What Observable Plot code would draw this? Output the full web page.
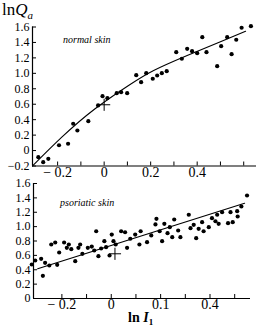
<!DOCTYPE html>
<html><head><meta charset="utf-8">
<script src="https://cdn.jsdelivr.net/npm/d3@7"></script>
<script src="https://cdn.jsdelivr.net/npm/@observablehq/plot@0.6"></script>
<style>
body{margin:0;background:#fff;}
#wrap{position:relative;width:258px;height:330px;font-family:"Liberation Serif",serif;color:#000;overflow:hidden;background:#fff}
#top,#bot{position:absolute;left:0}
#top{top:0}
#bot{top:180px}
.lab{position:absolute;white-space:nowrap;line-height:1}
</style></head><body>
<div id="wrap">
<div id="top"></div>
<div id="bot"></div>
<div class="lab" style="left:2px;top:1px;font-size:17px">ln<i>Q</i><i style="font-size:11px;position:relative;top:4px">a</i></div>
<div class="lab" style="left:63px;top:35px;font-size:10px;font-style:italic">normal skin</div>
<div class="lab" style="left:60px;top:198px;font-size:10px;font-style:italic">psoriatic skin</div>
<div class="lab" style="left:128px;top:311px;font-size:14px;font-weight:bold">ln <i>I</i><span style="font-size:9px;position:relative;top:3px">1</span></div>
</div>
<script>
// ---- normal skin (top panel) ----
const topX = [-0.283,-0.262,-0.240,-0.194,-0.155,-0.133,-0.115,-0.068,-0.026,-0.007,0.014,0.054,0.073,0.099,0.138,0.159,0.181,0.209,0.228,0.248,0.269,0.310,0.334,0.357,0.378,0.400,0.422,0.440,0.486,0.503,0.529,0.548,0.568,0.591,0.631];
const topY = [-0.086,-0.151,-0.107,0.069,0.088,0.347,0.260,0.380,0.584,0.704,0.678,0.743,0.756,0.743,0.976,0.886,1.002,0.930,0.972,1.002,1.028,1.274,1.189,1.318,1.287,1.261,1.468,1.274,1.093,1.352,1.468,1.248,1.435,1.590,1.611];
const topFitX = [-0.308,-0.182,-0.039,0.105,0.213,0.357,0.500,0.608];
const topFitY = [-0.2,0.173,0.541,0.843,1.037,1.231,1.410,1.545];
const topMeanX = [0];
const topMeanY = [0.593];
const topXTicks = [-0.2,-0.1,0,0.1,0.2,0.3,0.4,0.5,0.6];
const topXLabelVals = [-0.2,0,0.2,0.4];
const topXLabels = ["\u2212 0.2","0","0.2","0.4"];
const topYTicks = [-0.2,0,0.2,0.4,0.6,0.8,1.0,1.2,1.4,1.6];
const topYLabels = ["\u22120.2","0","0.2","0.4","0.6","0.8","1.0","1.2","1.4","1.6"];

// ---- psoriatic skin (bottom panel) ----
const botX = [-0.322,-0.308,-0.284,-0.277,-0.268,-0.251,-0.243,-0.227,-0.219,-0.211,-0.191,-0.180,-0.172,-0.162,-0.146,-0.133,-0.126,-0.117,-0.095,-0.079,-0.069,-0.061,-0.052,-0.041,-0.028,-0.021,-0.007,0.002,0.009,0.018,0.040,0.056,0.064,0.077,0.097,0.114,0.119,0.145,0.162,0.179,0.183,0.196,0.206,0.215,0.228,0.237,0.247,0.255,0.271,0.280,0.314,0.321,0.334,0.344,0.354,0.368,0.374,0.395,0.408,0.422,0.429,0.435,0.449,0.473,0.483,0.492,0.510,0.512,0.527,0.550];
const botY = [0.473,0.529,0.552,0.316,0.497,0.459,0.751,0.779,0.469,0.640,0.779,0.705,0.751,0.686,0.519,0.705,0.751,0.622,0.705,0.723,0.668,0.936,0.589,0.696,0.797,0.714,0.598,0.890,0.797,0.751,0.936,0.922,0.705,0.831,0.890,0.751,0.936,0.783,0.877,1.030,1.109,0.936,0.797,1.039,0.909,0.992,0.853,1.099,0.946,0.853,1.165,0.978,1.025,0.839,0.970,1.062,0.936,0.992,1.117,1.075,1.165,1.039,1.201,1.048,1.201,1.062,1.215,1.141,1.280,1.433];
const botFitX = [-0.298,0.540];
const botFitY = [0.413,1.326];
const botMeanX = [0.015];
const botMeanY = [0.622];
const botXTicks = [-0.2,-0.1,0,0.1,0.2,0.3,0.4,0.5];
const botXLabelVals = [-0.2,0,0.2,0.4];
const botXLabels = ["\u2212 0.2","0","0.1","0.4"];
const botYTicks = [0,0.2,0.4,0.6,0.8,1.0,1.2,1.4,1.6];
const botYLabels = ["0","0.2","0.4","0.6","0.8","1.0","1.2","1.4","1.6"];

const pts = (xs, ys) => xs.map((x, i) => ({x, y: ys[i]}));

function panel({W, H, mL, mR, mT, mB, xDom, yDom, xs, ys, fx, fy, mx, my, xTicks, xLV, xL, yTicks, yL, curve, xPad}) {
  const xMap = new Map(xLV.map((v, i) => [v, xL[i]]));
  const yMap = new Map(yTicks.map((v, i) => [v, yL[i]]));
  const pw = W - mL - mR, ph = H - mT - mB;
  return Plot.plot({
    width: W, height: H,
    marginLeft: mL, marginRight: mR, marginTop: mT, marginBottom: mB,
    x: {domain: xDom},
    y: {domain: yDom},
    style: {fontFamily: "'Liberation Serif', serif", fontSize: "14px", color: "#000", background: "transparent", overflow: "visible"},
    marks: [
      Plot.ruleY([yDom[0]], {stroke: "#000", strokeWidth: 1.2}),
      Plot.ruleX([xDom[0]], {stroke: "#000", strokeWidth: 1.2}),
      Plot.tickX(xTicks, {x: d => d, insetTop: ph - 4, stroke: "#000"}),
      Plot.tickY(yTicks, {y: d => d, insetRight: pw - 4, stroke: "#000"}),
      Plot.axisX(xLV, {tickSize: 0, tickPadding: xPad, tickFormat: d => xMap.get(d), label: null, fontSize: 14}),
      Plot.axisY(yTicks, {tickSize: 0, tickPadding: 3, tickFormat: d => yMap.get(d), label: null, fontSize: 12}),
      Plot.line(pts(fx, fy), {x: "x", y: "y", stroke: "#000", strokeWidth: 1.1, curve}),
      Plot.dot(pts(xs, ys), {x: "x", y: "y", r: 2.1, fill: "#000", stroke: "none"}),
      Plot.dot(pts(mx, my), {x: "x", y: "y", symbol: "plus", r: 4, stroke: "#000", strokeWidth: 1})
    ]
  });
}

document.getElementById("top").append(panel({
  W: 258, H: 180, mL: 32, mR: 2, mT: 26.5, mB: 14.5,
  xDom: [-0.308, 0.655], yDom: [-0.2, 1.6],
  xs: topX, ys: topY, fx: topFitX, fy: topFitY, mx: topMeanX, my: topMeanY,
  xTicks: topXTicks, xLV: topXLabelVals, xL: topXLabels,
  yTicks: topYTicks, yL: topYLabels, curve: "natural", xPad: 1
}));

document.getElementById("bot").append(panel({
  W: 258, H: 150, mL: 33, mR: 8, mT: 3, mB: 32,
  xDom: [-0.315, 0.564], yDom: [0, 1.6],
  xs: botX, ys: botY, fx: botFitX, fy: botFitY, mx: botMeanX, my: botMeanY,
  xTicks: botXTicks, xLV: botXLabelVals, xL: botXLabels,
  yTicks: botYTicks, yL: botYLabels, curve: "linear", xPad: 1
}));
</script>
</body></html>
